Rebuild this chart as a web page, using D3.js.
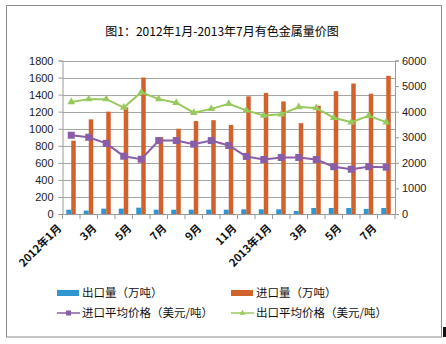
<!DOCTYPE html>
<html><head><meta charset="utf-8">
<script src="https://cdn.jsdelivr.net/npm/d3@7/dist/d3.min.js"></script>
<style>body{margin:0;background:#fff}svg{display:block}</style>
</head><body>
<svg id="c" width="446" height="344"></svg>
<script>
const months = ["2012年1月","2月","3月","4月","5月","6月","7月","8月","9月","10月","11月","12月","2013年1月","2月","3月","4月","5月","6月","7月"];
const tickLabels = ["2012年1月","","3月","","5月","","7月","","9月","","11月","","2013年1月","","3月","","5月","","7月"];
const exportVol = [50,40,63,63,74,51,51,51,51,51,55,55,55,35,70,70,70,60,70];
const importVol = [860,1110,1200,1250,1600,900,1000,1090,1100,1045,1380,1420,1320,1065,1270,1440,1530,1410,1620];
const importPrice = [3080,3000,2760,2260,2140,2870,2870,2730,2870,2680,2250,2130,2210,2210,2130,1850,1750,1850,1830];
const exportPrice = [4380,4490,4490,4160,4760,4490,4350,3960,4110,4310,4050,3850,3900,4180,4140,3760,3590,3840,3590];
const leftTicks = [0,200,400,600,800,1000,1200,1400,1600,1800];
const rightTicks = [0,1000,2000,3000,4000,5000,6000];
const title = "图1：2012年1月-2013年7月有色金属量价图";
const legendNames = ["出口量（万吨）","进口量（万吨）","进口平均价格（美元/吨）","出口平均价格（美元/吨）"];

const C = {blue:"#2f96d0", orange:"#d2622c", purple:"#8a5ea6", green:"#98c95c", grid:"#a6a6a6", axis:"#9a9a9a"};
const svg = d3.select("#c");
const L = 62.5, R = 395, T = 60.5, B = 214;
const font = "'Noto Sans CJK SC', 'Liberation Sans', sans-serif";

svg.append("rect").attr("x",6.5).attr("y",5.5).attr("width",435).attr("height",331.5)
  .attr("fill","#fff").attr("stroke","#8c8c8c");
svg.append("rect").attr("x",443).attr("y",327).attr("width",3).attr("height",10).attr("fill","#111");

svg.append("text").attr("x",222).attr("y",36).attr("text-anchor","middle")
  .attr("font-family",font).attr("font-size",12).attr("fill","#000").text(title);

const idx = months.map((d,i)=>i);
const x = d3.scaleBand().domain(idx).range([L,R]).paddingInner(0).paddingOuter(0);
const yL = d3.scaleLinear().domain([0,1800]).range([B,T]);
const yR = d3.scaleLinear().domain([0,6000]).range([B,T]);

// grid
svg.append("g").selectAll("line").data(leftTicks.slice(1)).join("line")
  .attr("x1",L).attr("x2",R).attr("y1",d=>Math.round(yL(d))+0.5).attr("y2",d=>Math.round(yL(d))+0.5)
  .attr("stroke",C.grid).attr("stroke-width",1);

// y axes
const gl = svg.append("g").attr("transform",`translate(${L},0)`)
  .call(d3.axisLeft(yL).tickValues(leftTicks).tickSize(4).tickPadding(5).tickFormat(d3.format("d")));
const gr = svg.append("g").attr("transform",`translate(${R},0)`)
  .call(d3.axisRight(yR).tickValues(rightTicks).tickSize(4).tickPadding(3).tickFormat(d3.format("d")));
[gl,gr].forEach(g=>{
  g.select(".domain").attr("stroke",C.axis);
  g.selectAll(".tick line").attr("stroke",C.axis);
  g.selectAll("text").attr("font-family","'Liberation Sans', Arial, sans-serif").attr("font-size",11).attr("fill","#222");
});

// bars
const bw = 5;
const cx = i => x(i) + x.bandwidth()/2;
svg.append("g").selectAll("rect").data(exportVol).join("rect")
  .attr("x",(d,i)=>cx(i)-bw).attr("width",bw)
  .attr("y",d=>yL(d)).attr("height",d=>B-yL(d)).attr("fill",C.blue);
svg.append("g").selectAll("rect").data(importVol).join("rect")
  .attr("x",(d,i)=>cx(i)).attr("width",bw-0.5)
  .attr("y",d=>yL(d)).attr("height",d=>B-yL(d)).attr("fill",C.orange);

// x axis
const gx = svg.append("g").attr("transform",`translate(0,${B})`)
  .call(d3.axisBottom(x).tickSize(0).tickFormat(""));
gx.select(".domain").attr("stroke",C.axis);
svg.append("g").selectAll("line").data(idx.concat([months.length])).join("line")
  .attr("x1",d=>d<months.length?x(d):R).attr("x2",d=>d<months.length?x(d):R)
  .attr("y1",B).attr("y2",B+5).attr("stroke",C.axis);
svg.append("g").selectAll("text").data(tickLabels).join("text")
  .attr("transform",(d,i)=>`translate(${cx(i)-14},${B+10}) rotate(-45)`)
  .attr("text-anchor","end").attr("dy",7)
  .attr("font-family",font).attr("font-size",11).attr("font-weight","bold").attr("fill","#111")
  .text(d=>d);

// lines
const line = d3.line().x((d,i)=>cx(i)).y(d=>yR(d));
svg.append("path").datum(importPrice).attr("d",line).attr("fill","none").attr("stroke",C.purple).attr("stroke-width",2);
svg.append("path").datum(exportPrice).attr("d",line).attr("fill","none").attr("stroke",C.green).attr("stroke-width",2);
svg.append("g").selectAll("rect").data(importPrice).join("rect")
  .attr("x",(d,i)=>cx(i)-3.5).attr("y",d=>yR(d)-3.5).attr("width",7).attr("height",7).attr("fill",C.purple);
const tri = d3.symbol().type(d3.symbolTriangle).size(26);
svg.append("g").selectAll("path").data(exportPrice).join("path")
  .attr("transform",(d,i)=>`translate(${cx(i)},${yR(d)})`).attr("d",tri).attr("fill",C.green);

// legend
const lg = svg.append("g").attr("font-family",font).attr("font-size",11.5).attr("fill","#111");
const lx = [57,231], ly = [293,313];
[[0,0],[1,0],[0,1],[1,1]].forEach(([c,r],k)=>{
  const X = lx[c], Y = ly[r];
  if (k<2) {
    lg.append("rect").attr("x",X).attr("y",Y-3).attr("width",22).attr("height",6).attr("fill",k===0?C.blue:C.orange);
  } else {
    const col = k===2?C.purple:C.green;
    lg.append("line").attr("x1",X).attr("x2",X+23).attr("y1",Y).attr("y2",Y).attr("stroke",col).attr("stroke-width",1.5);
    if (k===2) lg.append("rect").attr("x",X+9).attr("y",Y-2.5).attr("width",5).attr("height",5).attr("fill",col);
    else lg.append("path").attr("transform",`translate(${X+11.5},${Y})`).attr("d",d3.symbol().type(d3.symbolTriangle).size(14)).attr("fill",col);
  }
  lg.append("text").attr("x",X+25).attr("y",Y).attr("dy","0.36em").text(legendNames[k]);
});
</script>
</body></html>
